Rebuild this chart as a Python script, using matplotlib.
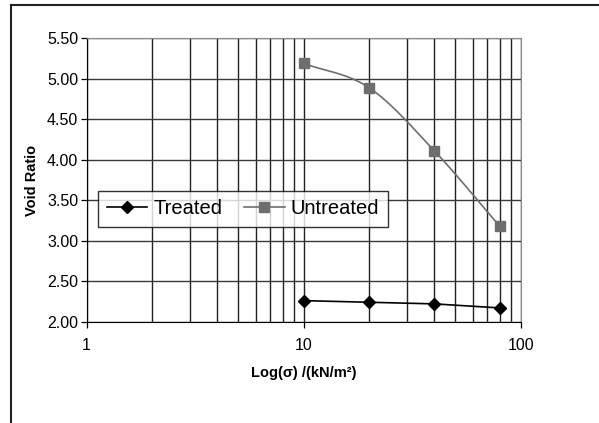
import numpy as np
import matplotlib
matplotlib.use("Agg")
import matplotlib.pyplot as plt
from matplotlib.lines import Line2D

# Data
pressure = [10, 20, 40, 80]
treated = [2.26, 2.24, 2.22, 2.17]
untreated = [5.19, 4.89, 4.11, 3.18]
series_names = ["Treated", "Untreated"]
y_ticks = [2.00, 2.50, 3.00, 3.50, 4.00, 4.50, 5.00, 5.50]
x_ticks = [1, 10, 100]

plt.rcParams['font.family'] = ['Liberation Sans', 'DejaVu Sans']

fig = plt.figure(figsize=(5.99, 4.23), dpi=100)
ax = fig.add_axes([0.1447, 0.2395, 0.7246, 0.670])

ax.set_xscale('log')
ax.set_xlim(1, 100)
ax.set_ylim(2.0, 5.5)

# Excel-style smoothed line (Bezier through the data points, in log-x space)
def smooth(xs, ys, n=30):
    lx = np.log10(np.asarray(xs, float))
    yy = np.asarray(ys, float)
    px = lx / 2.0 * 0.7246 * 5.99
    py = (yy - 2.0) / 3.5 * 0.670 * 4.23
    P = np.column_stack([px, py])
    P = np.vstack([P[0] - (P[1] - P[0]), P, P[-1] + (P[-1] - P[-2])])
    out = []
    t = np.linspace(0, 1, n)
    for i in range(1, len(P) - 2):
        p0, p1, p2, p3 = P[i - 1], P[i], P[i + 1], P[i + 2]
        tension = 1.0 / 6.0
        c1 = p1 + (p2 - p0) * tension
        c2 = p2 - (p3 - p1) * tension
        seg = (((1 - t) ** 3)[:, None] * p1 + (3 * (1 - t) ** 2 * t)[:, None] * c1
               + (3 * (1 - t) * t ** 2)[:, None] * c2 + (t ** 3)[:, None] * p2)
        out.append(seg)
    S = np.vstack(out)
    sx = 10 ** (S[:, 0] / (0.7246 * 5.99) * 2.0)
    sy = S[:, 1] / (0.670 * 4.23) * 3.5 + 2.0
    return sx, sy

gray = '#6e6e6e'
sx, sy = smooth(pressure, untreated)
ax.plot(sx, sy, color=gray, lw=1.2, zorder=3)
ax.plot(pressure, untreated, ls='none', marker='s', ms=6.8, color=gray, zorder=4)

ax.plot(pressure, treated, color='black', lw=1.2, marker='D', ms=6, zorder=4)

# Grid
ax.set_yticks(y_ticks)
ax.set_yticklabels([f"{v:.2f}" for v in y_ticks], fontsize=11.5)
ax.set_xticks(x_ticks)
ax.set_xticklabels([str(v) for v in x_ticks], fontsize=11.5)
ax.xaxis.set_minor_locator(matplotlib.ticker.LogLocator(base=10, subs=np.arange(2, 10)))
ax.xaxis.set_minor_formatter(matplotlib.ticker.NullFormatter())
ax.grid(True, which='major', axis='y', color='#3a3a3a', lw=1.0)
ax.grid(True, which='both', axis='x', color='#222222', lw=1.0)
ax.tick_params(axis='both', which='major', length=4, width=0.9, color='black')
ax.tick_params(axis='y', which='major', pad=2)
ax.tick_params(axis='x', which='major', pad=8)
ax.tick_params(axis='x', which='minor', length=0)
for s in ['top', 'right']:
    ax.spines[s].set_color('#8a8a8a')
for s in ['left', 'bottom']:
    ax.spines[s].set_color('black')
ax.set_axisbelow(True)

ax.set_ylabel("Void Ratio", fontsize=10.5, fontweight='bold', labelpad=6)
ax.set_xlabel("Log(σ) /(kN/m²)", fontsize=10.5, fontweight='bold', labelpad=9)

handles = [Line2D([], [], color='black', marker='D', ms=6, lw=1.2),
           Line2D([], [], color=gray, marker='s', ms=6.8, lw=1.2)]
leg = ax.legend(handles, series_names, loc='upper left',
                bbox_to_anchor=(0.027, 0.461), ncol=2, fontsize=14.5,
                frameon=True, fancybox=False, edgecolor='black',
                handlelength=2.0, handletextpad=0.3, columnspacing=1.1,
                borderpad=0.42, borderaxespad=0)
leg.get_frame().set_linewidth(1.0)
leg.set_zorder(5)

# Chart-area border (top and left visible)
fig.add_artist(Line2D([11 / 599, 1.0], [1 - 5 / 423, 1 - 5 / 423],
                      transform=fig.transFigure, color='#222222', lw=1.5))
fig.add_artist(Line2D([11 / 599, 11 / 599], [0, 1 - 5 / 423],
                      transform=fig.transFigure, color='#222222', lw=1.5))

fig.savefig("out.png", dpi=100)
